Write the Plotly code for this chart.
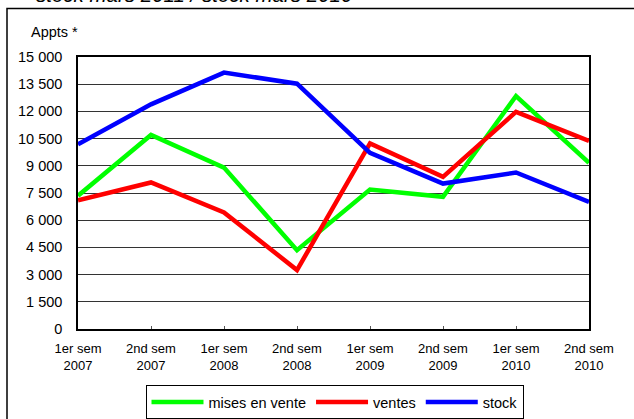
import plotly.graph_objects as go

categories = ["1er sem<br>2007", "2nd sem<br>2007", "1er sem<br>2008", "2nd sem<br>2008",
              "1er sem<br>2009", "2nd sem<br>2009", "1er sem<br>2010", "2nd sem<br>2010"]
mises_en_vente = [7350, 10700, 8900, 4350, 7690, 7290, 12850, 9170]
ventes = [7100, 8080, 6430, 3250, 10230, 8390, 11970, 10370]
stock = [10190, 12390, 14140, 13530, 9710, 8020, 8630, 7010]
ytick_vals = list(range(0, 15001, 1500))

FONT = "Arial, Liberation Sans, sans-serif"

# plot area in pixels
L, R, T, B = 78, 589, 57, 329
PW, PH = R - L, B - T

fig = go.Figure()
for name, vals, color in [("mises en vente", mises_en_vente, "#00FF00"),
                          ("ventes", ventes, "#FF0000"),
                          ("stock", stock, "#0000FF")]:
    fig.add_trace(go.Scatter(x=categories, y=vals, mode="lines", name=name,
                             line=dict(color=color, width=4.5)))

fig.update_layout(
    width=634, height=419,
    margin=dict(l=L, r=634 - R, t=T, b=419 - B, autoexpand=False),
    paper_bgcolor="white", plot_bgcolor="white",
    font=dict(family=FONT, size=14, color="black"),
    separators=", ",
    showlegend=True,
    legend=dict(orientation="h", x=(334.5 - L) / PW, xanchor="center", y=(B - 385) / PH, yanchor="top",
                bordercolor="black", borderwidth=1, bgcolor="white",
                font=dict(family=FONT, size=14.5, color="black"),
                itemwidth=52, tracegroupgap=0, traceorder="normal"),
    xaxis=dict(type="category", range=[0, 7], showline=True, linecolor="black", linewidth=1.5,
               mirror=True, ticks="inside", ticklen=3, tickcolor="#555", showgrid=False,
               ticklabelstandoff=7,
               tickfont=dict(size=13), zeroline=False, automargin=False),
    yaxis=dict(range=[0, 15000], tickvals=ytick_vals, tickformat=",d",
               showline=True, linecolor="black", linewidth=1.5, mirror=True,
               showgrid=True, gridcolor="#333", gridwidth=1, ticks="",
               ticklabelstandoff=11, tickfont=dict(size=14.5), zeroline=False, automargin=False),
    annotations=[
        dict(text="Appts *", xref="paper", yref="paper", x=(29 - L) / PW, y=(B - 32) / PH,
             xanchor="left", yanchor="middle", showarrow=False, font=dict(size=14.5)),
        dict(text="stock mars 2011 / stock mars 2010", xref="paper", yref="paper",
             x=(34 - L) / PW, y=(B - 8) / PH, xanchor="left", yanchor="bottom",
             showarrow=False, font=dict(size=20.5, style="italic")),
    ],
    shapes=[
        dict(type="rect", xref="paper", yref="paper", x0=(7 - L) / PW, x1=1.3,
             y0=-0.6, y1=(B - 8.5) / PH, line=dict(color="black", width=1.5),
             fillcolor="rgba(0,0,0,0)", layer="below"),
    ],
)

fig.write_html("out.html", config={"displayModeBar": False},
               post_script="document.body.style.margin='0px';document.body.style.padding='0px';")
